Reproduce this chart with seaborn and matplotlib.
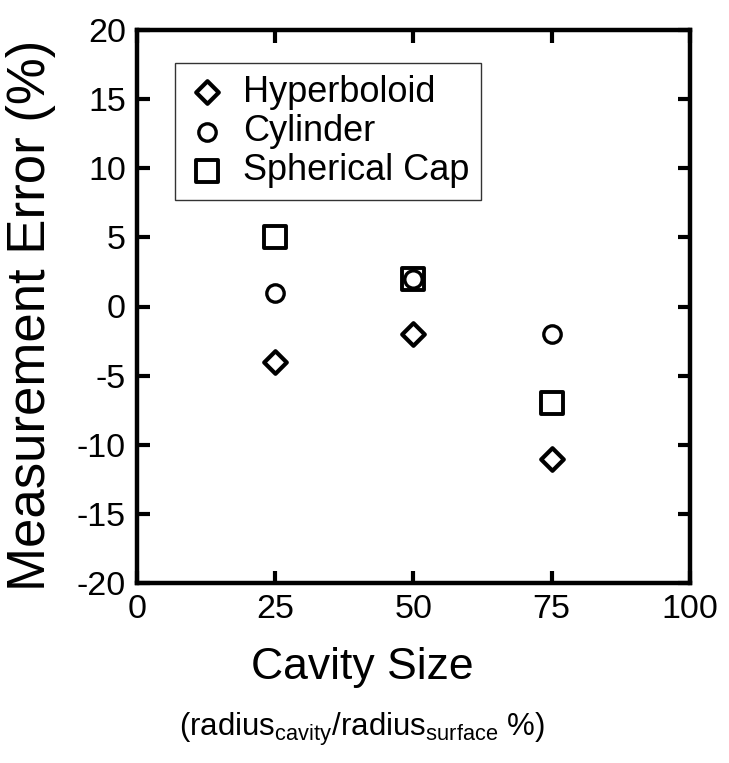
import pandas as pd
import seaborn as sns
import matplotlib.pyplot as plt

# values
cavity_size = [25, 50, 75]
hyperboloid = [-4, -2, -11]
cylinder = [1, 2, -2]
spherical_cap = [5, 2, -7]

x_ticks = [0, 25, 50, 75, 100]
y_ticks = [-20, -15, -10, -5, 0, 5, 10, 15, 20]

sns.set_style("ticks")
plt.rcParams['font.family'] = ['Liberation Sans', 'DejaVu Sans']
plt.rcParams['mathtext.fontset'] = 'custom'
plt.rcParams['mathtext.rm'] = 'Liberation Sans'
plt.rcParams['mathtext.default'] = 'regular'
plt.rcParams['axes.unicode_minus'] = False
plt.rcParams['text.color'] = 'black'

fig = plt.figure(figsize=(7.29, 7.63), dpi=100)
ax = fig.add_axes([137 / 729, 1 - 583 / 763, 553 / 729, 553 / 763])

# name, values, marker, size, edge width, draw order
series = [
    ("Hyperboloid", hyperboloid, "D", 11.5, 3.0, 5),
    ("Cylinder", cylinder, "o", 12.5, 2.4, 4),
    ("Spherical Cap", spherical_cap, "s", 15.5, 2.8, 3),
]
for name, vals, mk, ms, lw, z in series:
    df = pd.DataFrame({"x": cavity_size, "y": vals})
    sns.scatterplot(data=df, x="x", y="y", ax=ax, marker=mk, s=ms ** 2,
                    facecolor="white", edgecolor="black", linewidth=lw,
                    label=name, zorder=z)

ax.set_xlim(0, 100)
ax.set_ylim(-20, 20)
ax.set_xticks(x_ticks)
ax.set_yticks(y_ticks)
ax.set_xlabel("")
ax.set_ylabel("")
for s in ax.spines.values():
    s.set_visible(True)
    s.set_linewidth(3.2)
    s.set_color("black")
ax.tick_params(direction="in", length=9, width=3, top=True, right=True,
               labelsize=24.5, pad=8, colors="black")

leg = ax.legend(loc="upper left", bbox_to_anchor=(0.069, 0.94), borderaxespad=0,
                fontsize=26, frameon=True, fancybox=False, edgecolor="black",
                handletextpad=0.4, labelspacing=0.12, borderpad=0.32,
                handlelength=1.15)
leg.get_frame().set_linewidth(1.0)
for t in leg.get_texts():
    t.set_color("black")

fig.text(31 / 729, 1 - 315 / 763, "Measurement Error (%)", rotation=90,
         ha="center", va="center", fontsize=38)
fig.text(362 / 729, 1 - 668 / 763, "Cavity Size", ha="center", va="center",
         fontsize=32)
fig.text(362 / 729, 1 - 729 / 763,
         r"(radius$_{cavity}$/radius$_{surface}$ %)", ha="center",
         va="center", fontsize=22.5)

fig.savefig("out.png", dpi=100)
